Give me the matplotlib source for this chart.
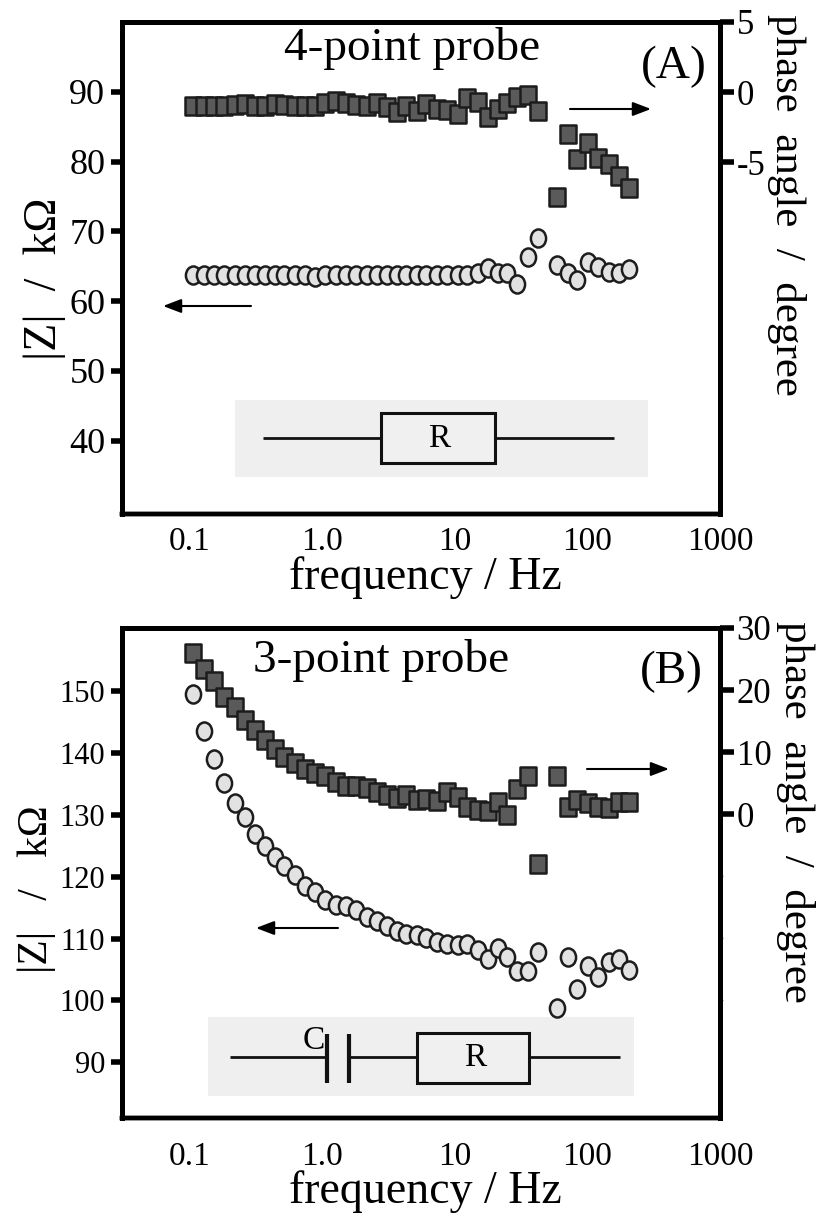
import numpy as np
import matplotlib
matplotlib.use("Agg")
import matplotlib.pyplot as plt
from matplotlib.patches import Rectangle
from matplotlib.path import Path
from matplotlib.ticker import FixedLocator, FixedFormatter, NullLocator

plt.rcParams['font.family'] = ['Liberation Serif', 'DejaVu Serif']
plt.rcParams['axes.unicode_minus'] = False

#frequency shared by both panels (Hz)
freq = [0.106, 0.128, 0.153, 0.181, 0.218, 0.261, 0.309, 0.368, 0.436, 0.515, 0.624,
        0.743, 0.885, 1.05, 1.26, 1.50, 1.79, 2.15, 2.56, 3.05, 3.64, 4.27,
        5.13, 6.07, 7.28, 8.75, 10.5, 12.4, 14.9, 17.9, 21.0, 24.9, 29.6, 35.6,
        42.2, 59.0, 71.3, 83.8, 101, 121, 145, 173, 206]

#panel A
phaseA = [-0.97, -0.97, -0.97, -0.97, -0.90, -0.87, -0.97, -0.97, -0.87, -0.90, -0.97,
          -0.97, -0.97, -0.80, -0.64, -0.80, -0.92, -0.99, -0.80, -1.04, -1.39, -0.99,
          -1.32, -0.85, -1.23, -1.27, -1.58, -0.40, -0.73, -1.79, -1.18, -0.75, -0.38,
          -0.24, -1.34, -7.45, -3.00, -4.74, -3.63, -4.67, -5.14, -5.99, -6.82]
zA = [63.7, 63.7, 63.7, 63.7, 63.7, 63.7, 63.7, 63.7, 63.7, 63.7, 63.7,
      63.7, 63.5, 63.7, 63.7, 63.7, 63.7, 63.7, 63.7, 63.7, 63.7, 63.7,
      63.7, 63.7, 63.7, 63.7, 63.7, 63.8, 64.0, 64.7, 64.0, 64.1, 62.5,
      66.3, 69.1, 65.2, 64.0, 63.0, 65.6, 64.9, 64.2, 64.1, 64.6]

#panel B
phaseB = [25.9, 23.4, 21.5, 18.8, 17.2, 15.2, 13.5, 12.0, 10.5, 9.2, 8.2,
          7.3, 6.7, 6.2, 5.1, 4.6, 4.6, 4.2, 3.5, 3.0, 2.6, 3.1,
          2.3, 2.5, 2.1, 3.6, 2.8, 1.1, 0.6, 0.5, 2.0, -0.2, 4.1,
          6.2, -8.0, 6.2, 1.2, 2.3, 1.8, 1.2, 0.9, 2.0, 2.0]
zB = [149.6, 143.6, 139.0, 135.2, 131.9, 129.7, 126.9, 125.0, 123.2, 121.7, 120.2,
      118.5, 117.5, 116.2, 115.5, 115.2, 114.6, 113.5, 112.8, 112.0, 111.3, 110.8,
      110.5, 110.1, 109.4, 109.1, 108.9, 109.2, 108.2, 106.7, 108.5, 107.1, 104.7,
      104.7, 107.8, 98.7, 107.1, 101.9, 105.5, 103.8, 106.2, 106.7, 105.0]

xTicks = [0.1, 1, 10, 100, 1000]
xTickLabels = ["0.1", "1.0", "10", "100", "1000"]

W, H = 822, 1217
edgeCol = "#1c1c1c"

#taller than wide, the original figure is stretched
squareMark = Path([(-0.42, -0.5), (0.42, -0.5), (0.42, 0.5), (-0.42, 0.5), (-0.42, -0.5)], closed=True)
circ = Path.unit_circle()
circleMark = Path(circ.vertices * [0.42, 0.5], circ.codes)

fig = plt.figure(figsize=(W / 100, H / 100), dpi=100)

#grey circuit backgrounds sit below the panels
bg = fig.add_axes([0, 0, 1, 1], zorder=-1)
bg.set_xlim(0, W)
bg.set_ylim(H, 0)
bg.axis("off")
bg.add_patch(Rectangle((235, 400), 413, 77, fc="#efefef", ec="none"))
bg.add_patch(Rectangle((208, 1017), 426, 79, fc="#efefef", ec="none"))


def makePanel(top, bottom, freqs, z, phase, zlim, plim, zTicks, pTicks, pMinor, xPad, zSize):
    ax = fig.add_axes([122 / W, 1 - bottom / H, (720 - 122) / W, (bottom - top) / H])
    ax.patch.set_visible(False)
    ax.set_xscale("log")
    ax.set_xlim(0.0307, 1000)
    ax.set_ylim(*zlim)
    ax.xaxis.set_major_locator(FixedLocator(xTicks))
    ax.xaxis.set_major_formatter(FixedFormatter(xTickLabels))
    ax.xaxis.set_minor_locator(NullLocator())
    ax.tick_params(axis="x", length=0, labelsize=24, pad=xPad)
    ax.set_yticks(zTicks)
    ax.tick_params(axis="y", length=8, width=4, labelsize=zSize, pad=4)

    ax2 = ax.twinx()
    ax2.set_xlim(0.0307, 1000)
    ax2.set_ylim(*plim)
    ax2.set_yticks(pTicks)
    ax2.tick_params(axis="y", length=10, width=4, labelsize=25, pad=2)
    if pMinor:
        ax2.set_yticks(pMinor, minor=True)
        ax2.tick_params(axis="y", which="minor", length=2, width=1, color="#888888")

    for a in (ax, ax2):
        for s in a.spines.values():
            s.set_linewidth(3.6)
        a.spines["bottom"].set_linewidth(3.2)

    ax.plot(freqs, z, ls="none", marker=circleMark, ms=13, mfc="#e2e2e2", mec=edgeCol, mew=1.8, clip_on=False)
    ax2.plot(freqs, phase, ls="none", marker=squareMark, ms=13.5, mfc="#5a5a5a", mec=edgeCol, mew=1.8, clip_on=False)
    return ax, ax2


makePanel(22, 514, freq, zA, phaseA, (29.5, 100), (-30.1, 5),
          [40, 50, 60, 70, 80, 90], [-5, 0, 5], None, 9, 26)
makePanel(628, 1118, freq, zB, phaseB, (81, 160.2), (-49, 30),
          [90, 100, 110, 120, 130, 140, 150], [0, 10, 20, 30], [-10, -20, -30], 17, 22)

#overlay in pixels for labels, arrows and the circuit sketches
ov = fig.add_axes([0, 0, 1, 1], zorder=5)
ov.set_xlim(0, W)
ov.set_ylim(H, 0)
ov.axis("off")


def arrow(x0, x1, y):
    ov.annotate("", xy=(x1, y), xytext=(x0, y),
                arrowprops=dict(arrowstyle="-|>,head_length=1.1,head_width=0.42", color="black", lw=1.5,
                                shrinkA=0, shrinkB=0))


def wire(xs, ys, lw=2):
    ov.plot(xs, ys, color="#111111", lw=lw, solid_capstyle="butt")


def box(x0, x1, y0, y1):
    ov.add_patch(Rectangle((x0, y0), x1 - x0, y1 - y0, fc="#f0f0f0", ec="#111111", lw=2.2))


#panel A text
ov.text(412, 48, "4-point probe", fontsize=34, ha="center", va="center")
ov.text(674, 67, "(A)", fontsize=34, ha="center", va="center")
ov.text(425, 578, "frequency / Hz", fontsize=33, ha="center", va="center")
ov.text(45, 279, "|Z|  /  k\u03a9", fontsize=33, rotation=90, ha="center", va="center")
ov.text(786, 205, "phase  angle  /  degree", fontsize=31, rotation=270, ha="center", va="center")

#panel B text
ov.text(381, 660, "3-point probe", fontsize=34, ha="center", va="center")
ov.text(671, 672, "(B)", fontsize=34, ha="center", va="center")
ov.text(425, 1192, "frequency / Hz", fontsize=33, ha="center", va="center")
ov.text(37, 889, "|Z|   /   k\u03a9", fontsize=30, rotation=90, ha="center", va="center")
ov.text(795, 812, "phase  angle  /  degree", fontsize=31, rotation=270, ha="center", va="center")

#arrows
arrow(570, 651, 109)
arrow(251, 163, 306)
arrow(587, 669, 769)
arrow(338, 256, 928)

#circuit A
wire([263, 381], [438, 438])
wire([495, 614], [438, 438])
box(381, 495, 413, 463)
ov.text(439, 439, "R", fontsize=24, ha="center", va="center")

#circuit B
wire([230, 327], [1057, 1057])
wire([327, 327], [1034, 1083], lw=3)
wire([349, 349], [1034, 1083], lw=3)
wire([349, 417], [1057, 1057])
wire([529, 620], [1057, 1057])
box(417, 529, 1033, 1083)
ov.text(314, 1041, "C", fontsize=24, ha="center", va="center")
ov.text(475, 1058, "R", fontsize=24, ha="center", va="center")

fig.savefig("out.png", dpi=100)
